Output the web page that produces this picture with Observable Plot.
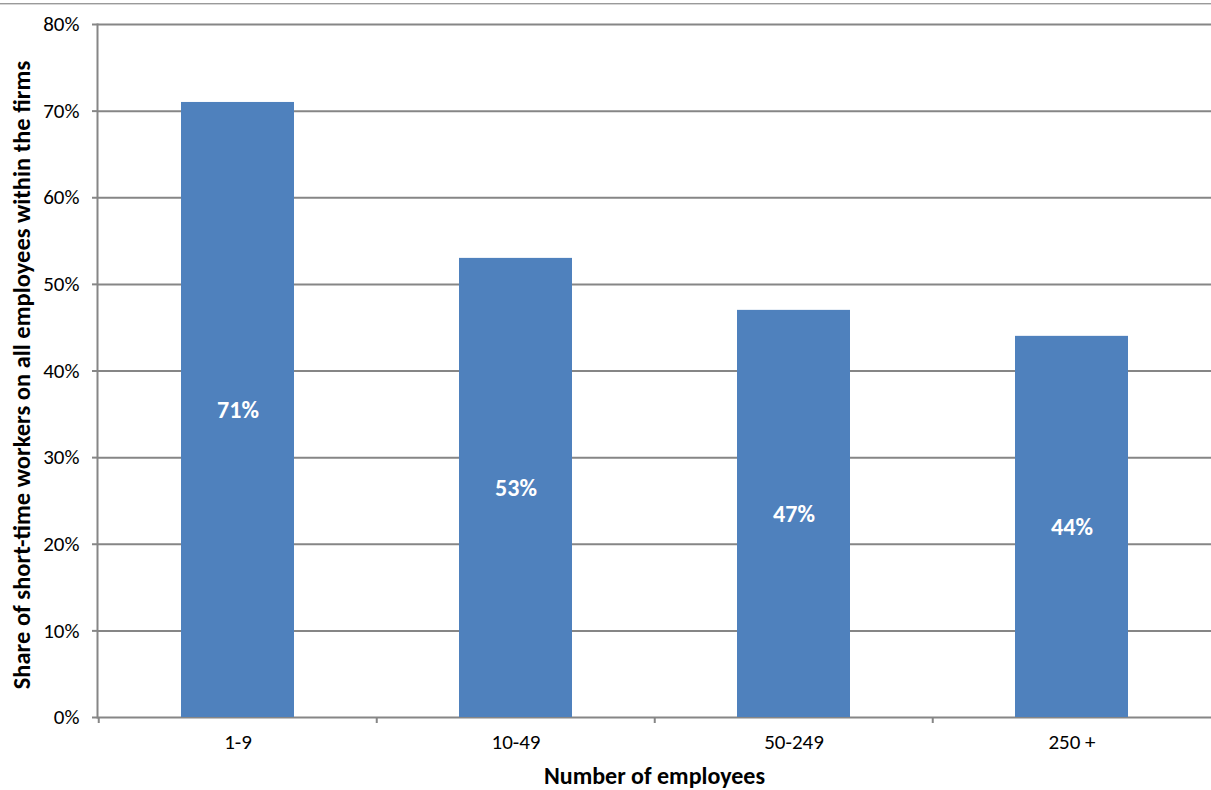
<!DOCTYPE html>
<html>
<head>
<meta charset="utf-8">
<script src="https://cdn.jsdelivr.net/npm/d3@7"></script>
<script src="https://cdn.jsdelivr.net/npm/@observablehq/plot@0.6"></script>
<style>
  html, body { margin: 0; padding: 0; background: #fff; }
  #wrap { position: relative; width: 1211px; height: 790px; overflow: hidden; }
  #topline { position: absolute; left: 0; top: 3px; width: 1211px; height: 0; border-top: 1px solid #9a9a9a; border-bottom: 1px solid #d6d6d6; }
  #chart { position: absolute; left: 0; top: 0; }
  svg { font-family: Carlito, Calibri, Lato, "Liberation Sans", sans-serif; }
</style>
</head>
<body>
<div id="wrap"><div id="topline"></div><div id="chart"></div></div>
<script>
const categories = ["1-9", "10-49", "50-249", "250 +"];
const values = [71, 53, 47, 44];
const yTicks = [0, 10, 20, 30, 40, 50, 60, 70, 80];
const yTitle = "Share of short-time workers on all employees within the firms";
const xTitle = "Number of employees";

const data = categories.map((c, i) => ({category: c, value: values[i]}));

const W = 1211, H = 790;
const mL = 97, mR = 0, mT = 24, mB = 73;
const step = (W - mL - mR) / categories.length;
const gridColor = "#868686";
const font = "Carlito, Calibri, Lato, 'Liberation Sans', sans-serif";

const plot = Plot.plot({
  width: W,
  height: H,
  marginLeft: mL,
  marginRight: mR,
  marginTop: mT,
  marginBottom: mB,
  style: {fontSize: "21px", fontFamily: font, color: "#000", background: "transparent"},
  x: {domain: categories, paddingInner: 0.594, paddingOuter: 0.297, label: null},
  y: {domain: [0, 80], label: null},
  marks: [
    Plot.ruleY(yTicks, {stroke: gridColor, strokeWidth: 2}),
    Plot.frame({anchor: "left", stroke: gridColor, strokeWidth: 2}),
    Plot.barY(data, {x: "category", y: "value", fill: "#4F81BD"}),
    Plot.text(data, {x: "category", y: d => d.value / 2, text: d => d.value + "%", fill: "#fff", fontWeight: "bold", fontSize: 24}),
    Plot.axisY({ticks: yTicks, tickFormat: d => d + "%", tickSize: 5, tickPadding: 13, stroke: gridColor, strokeWidth: 2, fontSize: 21, label: null}),
    Plot.axisX({tickSize: 0, tickPadding: 17, fontSize: 21, label: null}),
    Plot.axisX({tickSize: 6, dx: -step / 2, tickFormat: () => "", stroke: gridColor, strokeWidth: 2, label: null}),
    Plot.text([yTitle], {frameAnchor: "left", dx: -75, dy: 4, rotate: -90, textAnchor: "middle", fontWeight: "bold", fontSize: 24.5, fill: "#000"}),
    Plot.text([xTitle], {frameAnchor: "bottom", dy: 66, fontWeight: "bold", fontSize: 24, fill: "#000"})
  ]
});
document.getElementById("chart").appendChild(plot);
</script>
</body>
</html>
